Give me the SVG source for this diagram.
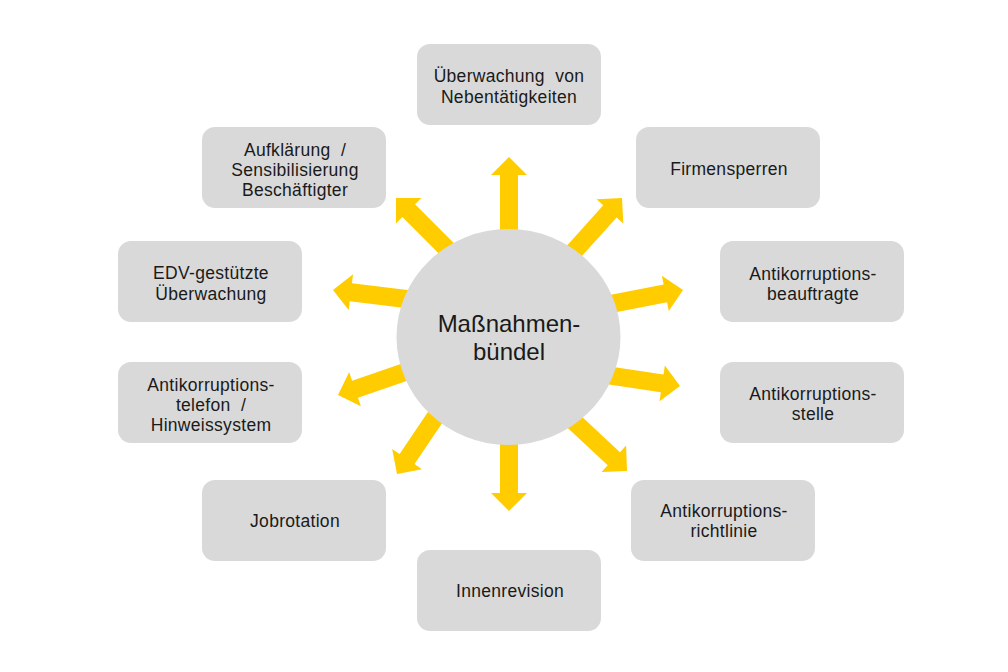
<svg xmlns="http://www.w3.org/2000/svg" width="1008" height="672" viewBox="0 0 1008 672">
<style>
.box{fill:#d9d9d9;}
.lbl{font-family:"Liberation Sans",Arial,sans-serif;font-size:17.5px;letter-spacing:0.3px;fill:#1a1a1a;text-anchor:middle;}
.ctr{font-family:"Liberation Sans",Arial,sans-serif;font-size:24px;fill:#1a1a1a;text-anchor:middle;}
.arr{fill:#ffcc00;}
</style>
<defs>
<path id="arrow" d="M0,0 L-18,-18 L-18,-9 L-150,-9 L-150,9 L-18,9 L-18,18 Z"/>
</defs>
<rect width="1008" height="672" fill="#ffffff"/>
<g id="connectors" class="arr">
<use href="#arrow" transform="translate(509,157) rotate(-90)"/>
<use href="#arrow" transform="translate(509,511) rotate(90)"/>
<use href="#arrow" transform="translate(396,198) rotate(-135)"/>
<use href="#arrow" transform="translate(622,198) rotate(-48)"/>
<use href="#arrow" transform="translate(333,290) rotate(-173)"/>
<use href="#arrow" transform="translate(338,395) rotate(161)"/>
<use href="#arrow" transform="translate(683,290) rotate(-11)"/>
<use href="#arrow" transform="translate(680,386) rotate(8.5)"/>
<use href="#arrow" transform="translate(627,471) rotate(43)"/>
<use href="#arrow" transform="translate(397,474) rotate(124)"/>
</g>
<g id="center">
<ellipse cx="508.5" cy="337" rx="112" ry="108" class="box"/>
<text class="ctr" x="509" y="332">Maßnahmen-</text>
<text class="ctr" x="509" y="360">bündel</text>
</g>
<g id="n-nebentaetigkeiten">
<rect class="box" x="417" y="44" width="184" height="81" rx="13"/>
<text class="lbl" x="509" y="82" xml:space="preserve">Überwachung  von</text>
<text class="lbl" x="509" y="103">Nebentätigkeiten</text>
</g>
<g id="n-firmensperren">
<rect class="box" x="636" y="127" width="184" height="81" rx="13"/>
<text class="lbl" x="729" y="175">Firmensperren</text>
</g>
<g id="n-beauftragte">
<rect class="box" x="720" y="241" width="184" height="81" rx="13"/>
<text class="lbl" x="813" y="280">Antikorruptions-</text>
<text class="lbl" x="813" y="300">beauftragte</text>
</g>
<g id="n-stelle">
<rect class="box" x="720" y="362" width="184" height="81" rx="13"/>
<text class="lbl" x="813" y="400">Antikorruptions-</text>
<text class="lbl" x="813" y="420">stelle</text>
</g>
<g id="n-richtlinie">
<rect class="box" x="631" y="480" width="184" height="81" rx="13"/>
<text class="lbl" x="724" y="517">Antikorruptions-</text>
<text class="lbl" x="724" y="537">richtlinie</text>
</g>
<g id="n-innenrevision">
<rect class="box" x="417" y="550" width="184" height="81" rx="13"/>
<text class="lbl" x="510" y="597">Innenrevision</text>
</g>
<g id="n-jobrotation">
<rect class="box" x="202" y="480" width="184" height="81" rx="13"/>
<text class="lbl" x="295" y="527">Jobrotation</text>
</g>
<g id="n-telefon">
<rect class="box" x="118" y="362" width="184" height="81" rx="13"/>
<text class="lbl" x="211" y="391">Antikorruptions-</text>
<text class="lbl" x="211" y="411" xml:space="preserve">telefon  /</text>
<text class="lbl" x="211" y="431">Hinweissystem</text>
</g>
<g id="n-edv">
<rect class="box" x="118" y="241" width="184" height="81" rx="13"/>
<text class="lbl" x="211" y="279">EDV-gestützte</text>
<text class="lbl" x="211" y="300">Überwachung</text>
</g>
<g id="n-aufklaerung">
<rect class="box" x="202" y="127" width="184" height="81" rx="13"/>
<text class="lbl" x="295" y="156" xml:space="preserve">Aufklärung  /</text>
<text class="lbl" x="295" y="176">Sensibilisierung</text>
<text class="lbl" x="295" y="196">Beschäftigter</text>
</g>
</svg>
